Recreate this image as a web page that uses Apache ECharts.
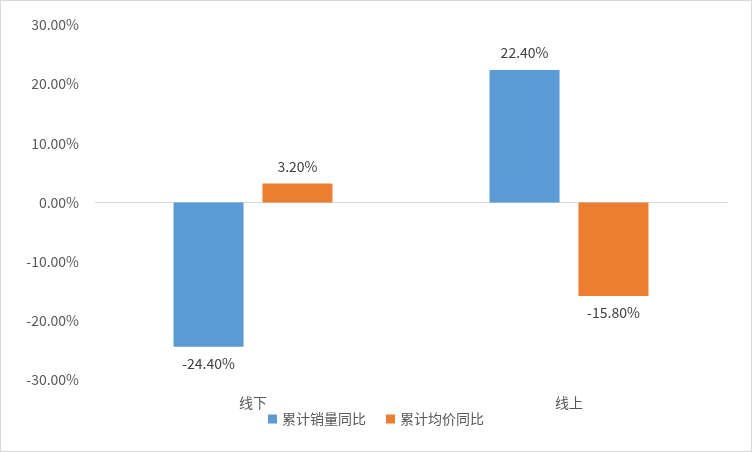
<!DOCTYPE html>
<html><head><meta charset="utf-8">
<script src="https://cdn.jsdelivr.net/npm/echarts@6/dist/echarts.min.js"></script>
<style>html,body{margin:0;padding:0;background:#fff}#c{width:752px;height:452px;box-sizing:border-box;border:1px solid #d9d9d9}</style>
</head><body><div id="c"></div>
<script>
const categories = ["线下", "线上"];
const salesYoY = [-24.4, 22.4];
const priceYoY = [3.2, -15.8];
const seriesNames = ["累计销量同比", "累计均价同比"];
const font = "'Noto Sans CJK SC', sans-serif";
const chart = echarts.init(document.getElementById('c'));
const lbl = {show: true, position: 'outside', formatter: p => p.value.toFixed(2) + '%', color: '#404040', fontSize: 14, fontFamily: font, distance: 10};
chart.setOption({
  animation: false,
  grid: {left: 94, right: 24, top: 24, bottom: 71},
  legend: {bottom: 20, itemWidth: 9, itemHeight: 9, itemGap: 20, icon: 'rect',
    textStyle: {color: '#595959', fontSize: 14, fontFamily: font}, data: seriesNames},
  xAxis: {type: 'category', data: categories, axisTick: {show: false},
    axisLine: {lineStyle: {color: '#d9d9d9'}},
    axisLabel: {color: '#595959', fontSize: 14, fontFamily: font, margin: 16}},
  yAxis: {type: 'value', min: -30, max: 30, interval: 10, splitLine: {show: false},
    axisLabel: {formatter: v => v.toFixed(2) + '%', color: '#595959', fontSize: 14, fontFamily: font, margin: 16}},
  series: [
    {name: seriesNames[0], type: 'bar', data: salesYoY, barWidth: 70, barGap: '27%', itemStyle: {color: '#5b9bd5'}, label: lbl},
    {name: seriesNames[1], type: 'bar', data: priceYoY, barWidth: 70, itemStyle: {color: '#ed7d31'}, label: lbl}
  ]
});
</script></body></html>
